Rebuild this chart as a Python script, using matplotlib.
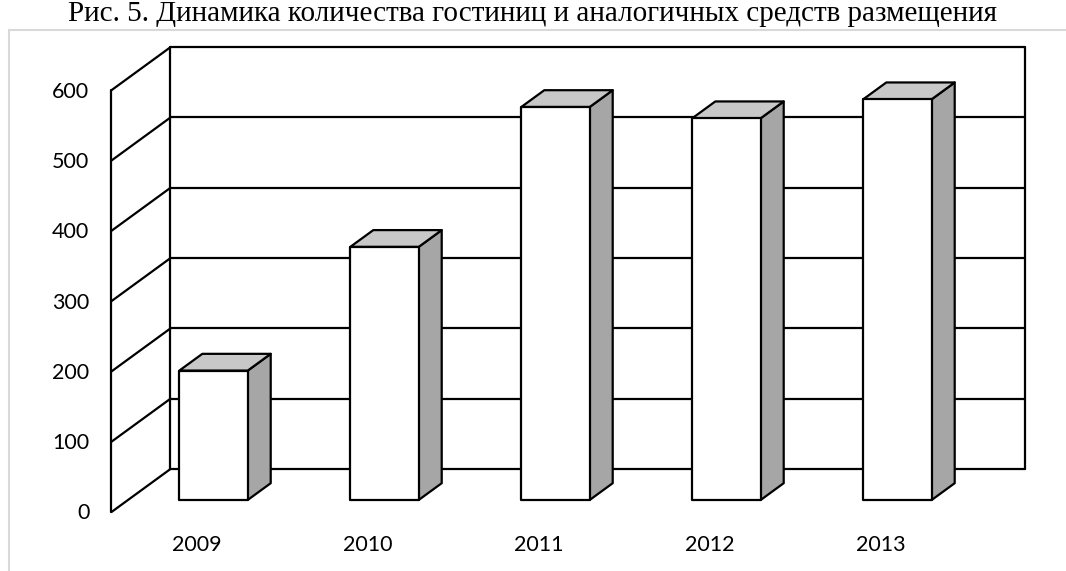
import matplotlib.pyplot as plt
from matplotlib.patches import Polygon, Rectangle

plt.rcParams.update({'font.family': 'Lato', 'font.size': 15.5})

years = ['2009', '2010', '2011', '2012', '2013']
hotels = [184, 360, 559, 543, 570]
y_ticks = [0, 100, 200, 300, 400, 500, 600]
title = 'Рис. 5. Динамика количества гостиниц и аналогичных средств размещения'

# oblique "3d" projection: depth 0..1 moves a point right and up
DX = 0.345
DY = 61.2
X_LEFT, X_RIGHT = -0.5, 4.5
D_FRONT, D_BACK = 0.28, 0.67   # depth of the bars
HALF_W = 0.2
LINE = dict(color='black', lw=1.6, solid_capstyle='round')


def proj(x, y, d):
    return (x + DX * d, y + DY * d)


def seg(ax, p, q, z=1):
    ax.plot([p[0], q[0]], [p[1], q[1]], zorder=z, **LINE)


fig = plt.figure(figsize=(10.66, 5.71), dpi=100)
ax = fig.add_axes([0, 0, 1, 1])
ax.set_xlim(-1.152, 5.082)
ax.set_ylim(-83.9, 728.3)
ax.axis('off')

# outer chart frame
fig.patches.append(Rectangle((9 / 1066, -0.05), 1.1, 1 - 30 / 571 + 0.05,
                             transform=fig.transFigure, fill=False,
                             ec='#d9d9d9', lw=1.5))

# walls and gridlines
top = y_ticks[-1]
for t in y_ticks:
    seg(ax, proj(X_LEFT, t, 1), proj(X_RIGHT, t, 1))
    seg(ax, proj(X_LEFT, t, 0), proj(X_LEFT, t, 1))
    ax.text(X_LEFT - 0.13, t - 2, str(t), ha='right', va='center')
seg(ax, proj(X_LEFT, 0, 0), proj(X_LEFT, top, 0))
seg(ax, proj(X_LEFT, 0, 1), proj(X_LEFT, top, 1))
seg(ax, proj(X_RIGHT, 0, 1), proj(X_RIGHT, top, 1))

# bars
for i, (year, v) in enumerate(zip(years, hotels)):
    x0, x1 = i - HALF_W, i + HALF_W
    front = [proj(x0, 0, D_FRONT), proj(x1, 0, D_FRONT),
             proj(x1, v, D_FRONT), proj(x0, v, D_FRONT)]
    roof = [proj(x0, v, D_FRONT), proj(x1, v, D_FRONT),
            proj(x1, v, D_BACK), proj(x0, v, D_BACK)]
    side = [proj(x1, 0, D_FRONT), proj(x1, 0, D_BACK),
            proj(x1, v, D_BACK), proj(x1, v, D_FRONT)]
    for pts, fc in [(side, '#a6a6a6'), (roof, '#c8c8c8'), (front, 'white')]:
        ax.add_patch(Polygon(pts, closed=True, fc=fc, ec='black', lw=1.6,
                             joinstyle='round', zorder=5))
    ax.text(i, -47, year, ha='center', va='center')

fig.text(0.5, 1 - 21 / 571, title, ha='center', va='baseline',
         family='Liberation Serif', fontsize=21)

fig.savefig('out.png', dpi=100)
